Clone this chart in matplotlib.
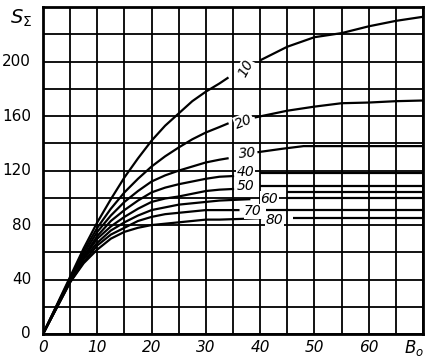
import matplotlib
matplotlib.use("Agg")
import matplotlib.pyplot as plt
import numpy as np

plt.rcParams['font.family'] = ['Liberation Sans Narrow', 'DejaVu Sans']

# left (rising) parts of the curves
x_left = [0, 2.5, 5, 7.5, 10, 12.5, 15, 17.5, 20, 22.5, 25, 27.5, 30, 32.5]
curves = {
    '10': [0, 21, 42, 63, 82, 99, 115, 129, 142, 153, 162, 171, 178, 184],
    '20': [0, 20.5, 41, 61, 78, 92, 104, 114, 123, 130.5, 137, 143, 148, 152],
    '30': [0, 20, 40, 59, 75, 87, 97, 105, 112, 116.5, 120, 123, 126, 128],
    '40': [0, 20, 40, 57, 72, 83, 91, 98, 104, 107.5, 110, 112, 114, 115.5],
    '50': [0, 19.5, 39, 56, 70, 79, 86, 92, 97, 99.5, 101, 103, 105, 106],
    '60': [0, 19.5, 39, 55, 67, 76, 82, 87, 91, 93, 95, 96, 97, 98],
    '70': [0, 19, 38, 53, 65, 73, 78, 83, 86, 88, 89, 90, 91, 91],
    '80': [0, 19, 38, 52, 62, 70, 75, 78, 80, 81, 82, 83, 84, 84],
}
# last point of the left part (x, y), before the label
left_end = {
    '10': (34, 188), '20': (34, 154.5), '30': (34, 129), '40': (35, 116),
    '50': (35, 106.5), '60': (38, 99), '70': (36, 91), '80': (40, 85),
}
# right parts after the label
right_x = {
    '10': [40, 45, 50, 55, 60, 65, 70],
    '20': [39, 45, 50, 55, 60, 65, 70],
    '30': [39.5, 44, 48, 70],
    '40': [40, 70],
    '50': [40, 70],
    '60': [45, 70],
    '60b': [45, 70],
    '70': [41, 70],
    '80': [46, 70],
}
right_y = {
    '10': [201, 211, 218, 221, 226, 230, 233],
    '20': [159, 164, 167, 169.5, 170, 171, 171.5],
    '30': [133.5, 136, 138, 138],
    '40': [118, 118],
    '50': [109, 109],
    '60': [104, 104],
    '60b': [100, 100],
    '70': [91, 91],
    '80': [85, 85],
}
# label positions and rotation
labels = {
    '10': (37.3, 195, 62), '20': (37.0, 156, 22), '30': (37.6, 133, 5),
    '40': (37.3, 119, 0), '50': (37.3, 108.5, 0), '60': (41.7, 99.5, 0),
    '70': (38.7, 90, 0), '80': (42.6, 83.5, 0),
}

fig = plt.figure(figsize=(4.46, 3.63), dpi=100)
ax = fig.add_axes([0.0964, 0.08, 0.852, 0.9])

for k, ys in curves.items():
    xe, ye = left_end[k]
    ax.plot(x_left + [xe], ys + [ye], color='black', lw=1.6, solid_joinstyle='round')
for k in right_x:
    ax.plot(right_x[k], right_y[k], color='black', lw=1.6, solid_capstyle='butt')
for k, (lx, ly, rot) in labels.items():
    ax.text(lx, ly, k, fontsize=10, rotation=rot, ha='center', va='center',
            style='italic', bbox=dict(facecolor='white', edgecolor='none', pad=0.5))

ax.set_xlim(0, 70)
ax.set_ylim(0, 240)
ax.set_xticks(np.arange(0, 71, 5))
ax.set_yticks(np.arange(0, 241, 20))
ax.grid(True, color='black', lw=1.3)
ax.set_axisbelow(True)
ax.tick_params(length=0, labelbottom=False, labelleft=False)
for s in ax.spines.values():
    s.set_linewidth(2)

for v in range(0, 61, 10):
    ax.text(v, -10, str(v), ha='center', va='center', fontsize=11, style='italic')
ax.text(68.3, -10, r'$B_o$', ha='center', va='center', fontsize=12)
for v in range(0, 201, 40):
    ax.text(-2.2, v, str(v), ha='right', va='center', fontsize=11)
ax.text(-2.0, 232, r'$S_\Sigma$', ha='right', va='center', fontsize=14)

fig.savefig('out.png', dpi=100)
